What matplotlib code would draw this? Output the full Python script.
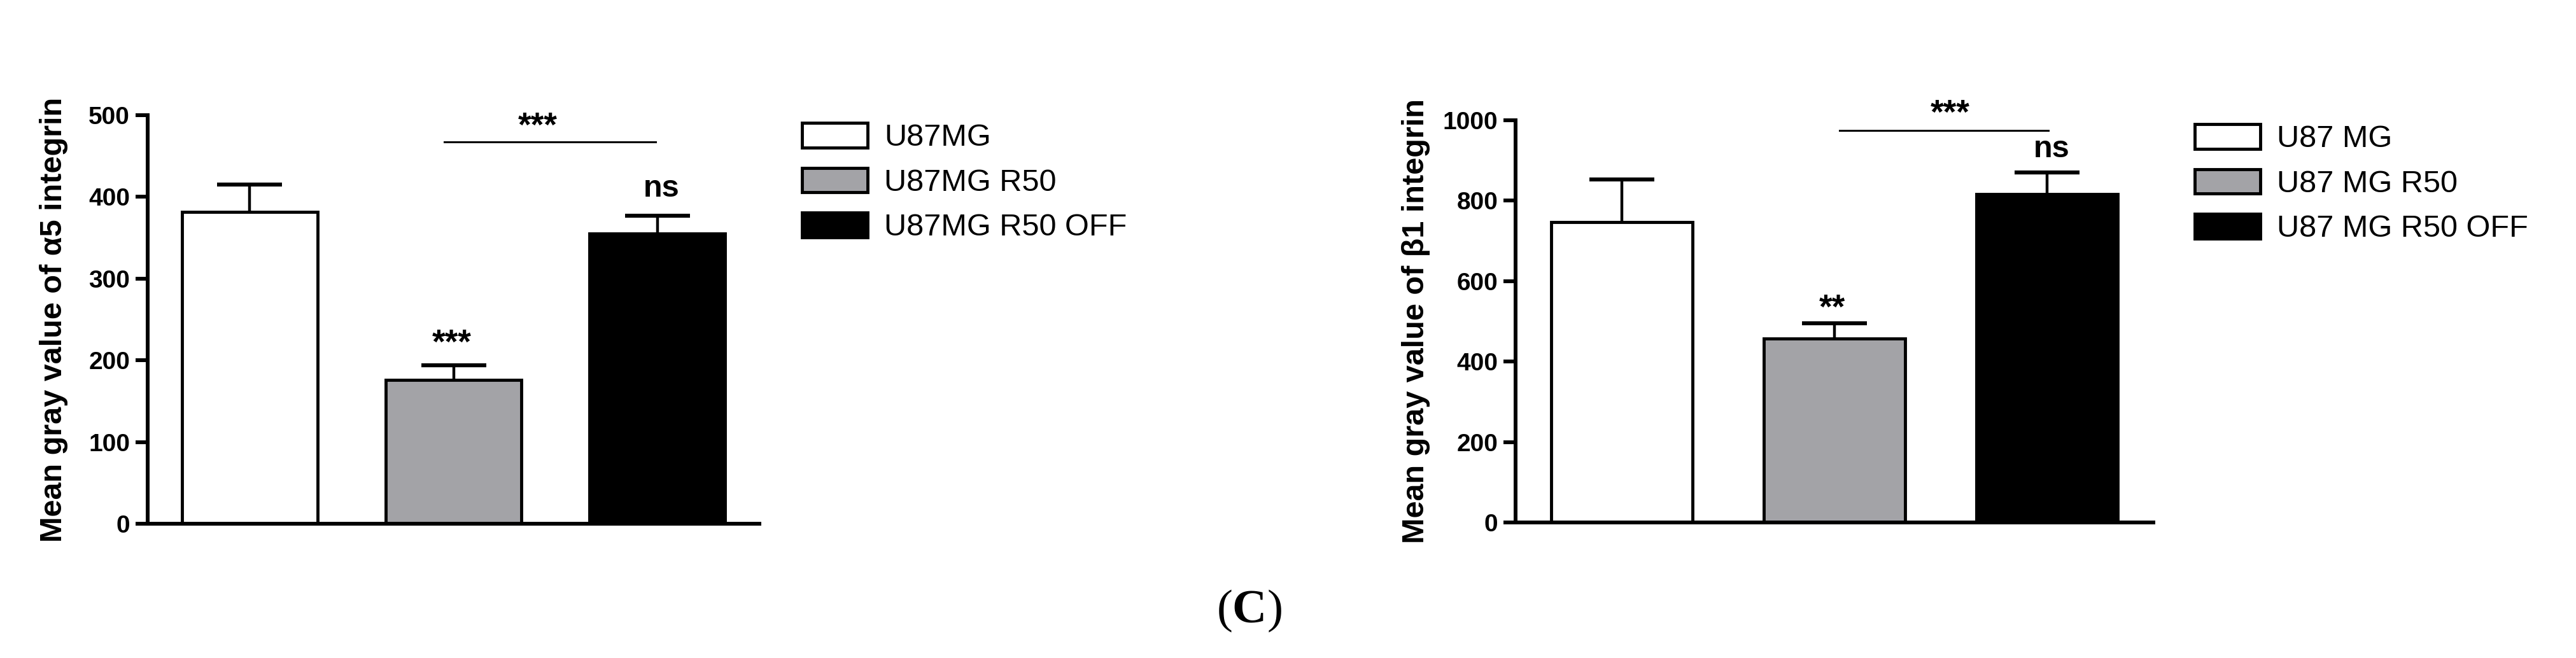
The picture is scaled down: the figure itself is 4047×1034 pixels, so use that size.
import matplotlib
matplotlib.use("Agg")
import matplotlib.pyplot as plt
import numpy as np

plt.rcParams['font.family'] = ['Liberation Sans', 'DejaVu Sans']
plt.rcParams['mathtext.fontset'] = 'custom'
plt.rcParams['mathtext.rm'] = 'Liberation Serif'
plt.rcParams['mathtext.bf'] = 'Liberation Serif:bold'

# ---- data ----
labels_a = ["U87MG", "U87MG R50", "U87MG R50 OFF"]
means_a = [382, 176, 355]
errs_a = [33, 18, 22]
yticks_a = [0, 100, 200, 300, 400, 500]
ylabel_a = "Mean gray value of \u03b15 integrin"
stars_a = ["", "***", "ns"]
bracket_a = "***"

labels_b = ["U87 MG", "U87 MG R50", "U87 MG R50 OFF"]
means_b = [747, 458, 817]
errs_b = [106, 38, 53]
yticks_b = [0, 200, 400, 600, 800, 1000]
ylabel_b = "Mean gray value of \u03b21 integrin"
stars_b = ["", "**", "ns"]
bracket_b = "***"

colors = ["white", "#A3A3A7", "black"]

W, H = 4047, 1034
fig = plt.figure(figsize=(W / 100, H / 100), dpi=100)


def panel(rect, means, errs, yticks, ylabel, stars, bracket, star_y, br_y, br_x, br_text, labels,
          label_x, leg_anchor, br_dx):
    ax = fig.add_axes(rect)
    x = np.arange(len(means))
    ax.errorbar(x, means, yerr=errs, fmt='none', ecolor='black', elinewidth=3.2,
                capsize=37, capthick=4.5, zorder=1)
    bars = ax.bar(x, means, width=0.665, color=colors, edgecolor='black', linewidth=3.5, zorder=2)
    ax.set_xlim(-0.5, 2.5)
    ax.set_ylim(0, yticks[-1])
    ax.set_yticks(yticks)
    ax.set_xticks([])
    for s in ['top', 'right']:
        ax.spines[s].set_visible(False)
    for s in ['left', 'bottom']:
        ax.spines[s].set_linewidth(4.3)
        ax.spines[s].set_capstyle('projecting')
    ax.tick_params(axis='y', length=14, width=4.3, pad=6, labelsize=28)
    for t in ax.get_yticklabels():
        t.set_fontweight('bold')
    ax.set_ylabel(ylabel, fontsize=35, fontweight='bold')
    ax.yaxis.set_label_coords(label_x, 0.5)
    for xi, s, yy in zip(x, stars, star_y):
        if s:
            ax.text(xi + (0.02 if s == 'ns' else -0.01), yy, s, ha='center', va='center',
                    fontsize=35 if s == 'ns' else 38, fontweight='bold', clip_on=False)
    ax.plot(br_x, [br_y, br_y], color='black', lw=2.2, clip_on=False)
    ax.text(np.mean(br_x) + br_dx, br_text, bracket,
            ha='center', va='center', fontsize=38, fontweight='bold', clip_on=False)
    fig.legend(handles=list(bars.patches), labels=labels, loc='upper left',
               bbox_to_anchor=leg_anchor, bbox_transform=fig.transFigure,
               frameon=False, fontsize=35, handlelength=2.12, handleheight=0.85,
               handletextpad=0.53, labelspacing=0.5, borderpad=0, borderaxespad=0)
    return ax


panel([232 / W, 1 - 823 / H, 961 / W, 642 / H], means_a, errs_a, yticks_a, ylabel_a,
      stars_a, bracket_a, [0, 220, 410], 467, [0.956, 1.99], 485, labels_a,
      -0.13, (1260 / W, 1 - 193 / H), -0.06)

panel([2381 / W, 1 - 821 / H, 1002 / W, 632 / H], means_b, errs_b, yticks_b, ylabel_b,
      stars_b, bracket_b, [0, 530, 928], 975, [1.025, 2.005], 1014, labels_b,
      -0.134, (3448 / W, 1 - 195 / H), 0.03)

fig.text(1962 / W, 1 - 960 / H, r"($\mathbf{C}$)", ha='center', va='center', fontsize=54,
         family='Liberation Serif')

fig.savefig("out.png", dpi=100)
